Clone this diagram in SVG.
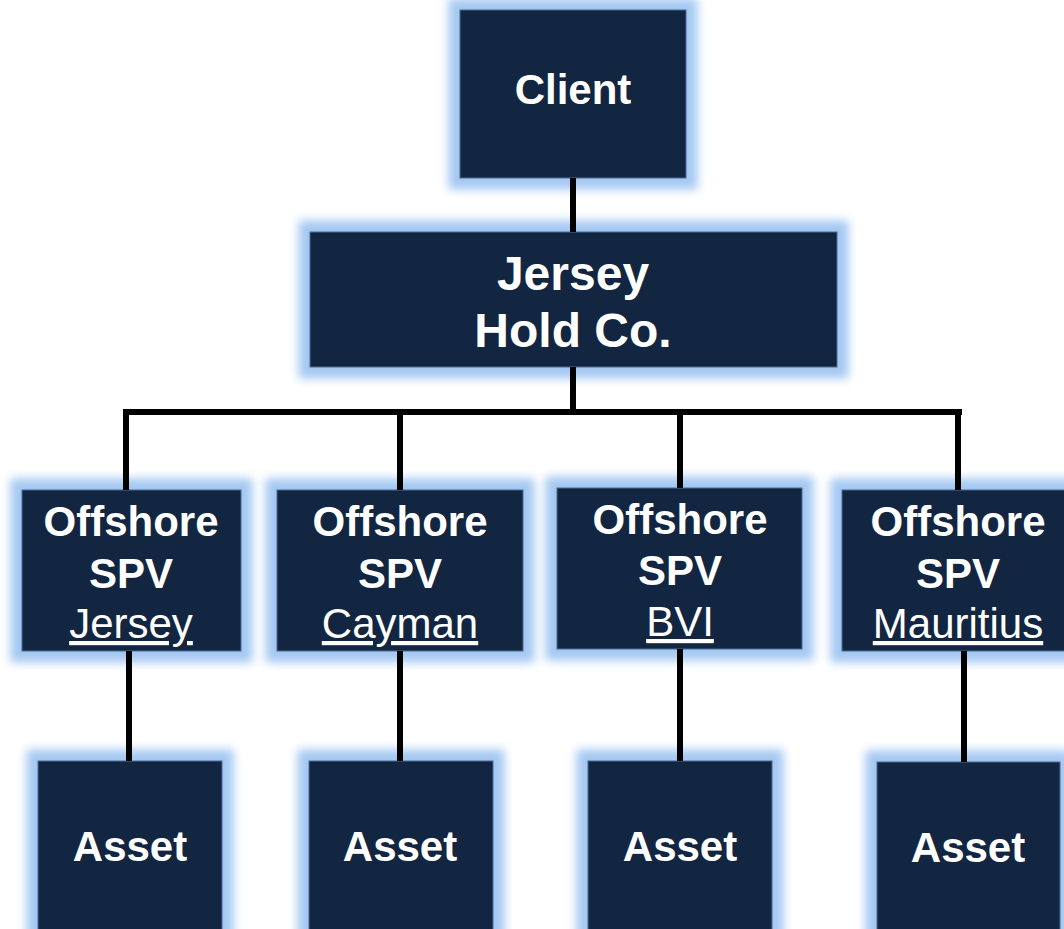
<svg xmlns="http://www.w3.org/2000/svg" width="1064" height="929" viewBox="0 0 1064 929">
<defs>
<filter id="glow" x="-30%" y="-30%" width="160%" height="160%" color-interpolation-filters="sRGB">
<feMorphology in="SourceAlpha" operator="dilate" radius="11" result="d"/>
<feGaussianBlur in="d" stdDeviation="5" result="b"/>
<feFlood flood-color="#a4c8f2"/>
<feComposite in2="b" operator="in" result="g"/>
<feMerge><feMergeNode in="g"/><feMergeNode in="SourceGraphic"/></feMerge>
</filter>
</defs>
<style>
.box{fill:#122641;stroke:#4a6a94;stroke-width:1;filter:url(#glow)}
.t{font-family:"Liberation Sans",Arial,sans-serif;font-size:42px;fill:#ffffff;text-anchor:middle}
.b{font-weight:bold}
.u{text-decoration:underline}
.big{font-size:48px}
.c{fill:none;stroke:#000;stroke-width:6}
</style>
<rect width="1064" height="929" fill="#ffffff"/>
<g id="client"><rect class="box" x="460" y="10" width="226" height="168"/><text class="t b" x="573" y="104">Client</text></g>
<g id="holdco"><rect class="box" x="310" y="232" width="527" height="135"/><text class="t b big" x="573" y="290">Jersey</text><text class="t b big" x="573" y="347">Hold Co.</text></g>
<g id="spv-jersey"><rect class="box" x="22" y="490" width="219" height="161"/><text class="t b" x="131" y="536">Offshore</text><text class="t b" x="131" y="588">SPV</text><text class="t u" x="131" y="638">Jersey</text></g>
<g id="spv-cayman"><rect class="box" x="277" y="490" width="246" height="161"/><text class="t b" x="400" y="536">Offshore</text><text class="t b" x="400" y="588">SPV</text><text class="t u" x="400" y="638">Cayman</text></g>
<g id="spv-bvi"><rect class="box" x="557" y="488" width="245" height="161"/><text class="t b" x="680" y="534">Offshore</text><text class="t b" x="680" y="585">SPV</text><text class="t u" x="680" y="636">BVI</text></g>
<g id="spv-mauritius"><rect class="box" x="842" y="490" width="230" height="161"/><text class="t b" x="958" y="536">Offshore</text><text class="t b" x="958" y="588">SPV</text><text class="t u" x="958" y="638">Mauritius</text></g>
<g id="asset-1"><rect class="box" x="38" y="761" width="184" height="180"/><text class="t b" x="130" y="861">Asset</text></g>
<g id="asset-2"><rect class="box" x="309" y="761" width="184" height="180"/><text class="t b" x="400" y="861">Asset</text></g>
<g id="asset-3"><rect class="box" x="588" y="761" width="184" height="180"/><text class="t b" x="680" y="861">Asset</text></g>
<g id="asset-4"><rect class="box" x="877" y="762" width="183" height="180"/><text class="t b" x="968" y="862">Asset</text></g>
<g id="connectors">
<path class="c" d="M573 178V232"/>
<path class="c" d="M573 367V412"/>
<path class="c" d="M126 490V412H962"/>
<path class="c" d="M400 412V490"/>
<path class="c" d="M680 412V488"/>
<path class="c" d="M958 412V490"/>
<path class="c" d="M129 651V761"/>
<path class="c" d="M400 651V761"/>
<path class="c" d="M680 649V761"/>
<path class="c" d="M964 651V762"/>
</g>
</svg>
